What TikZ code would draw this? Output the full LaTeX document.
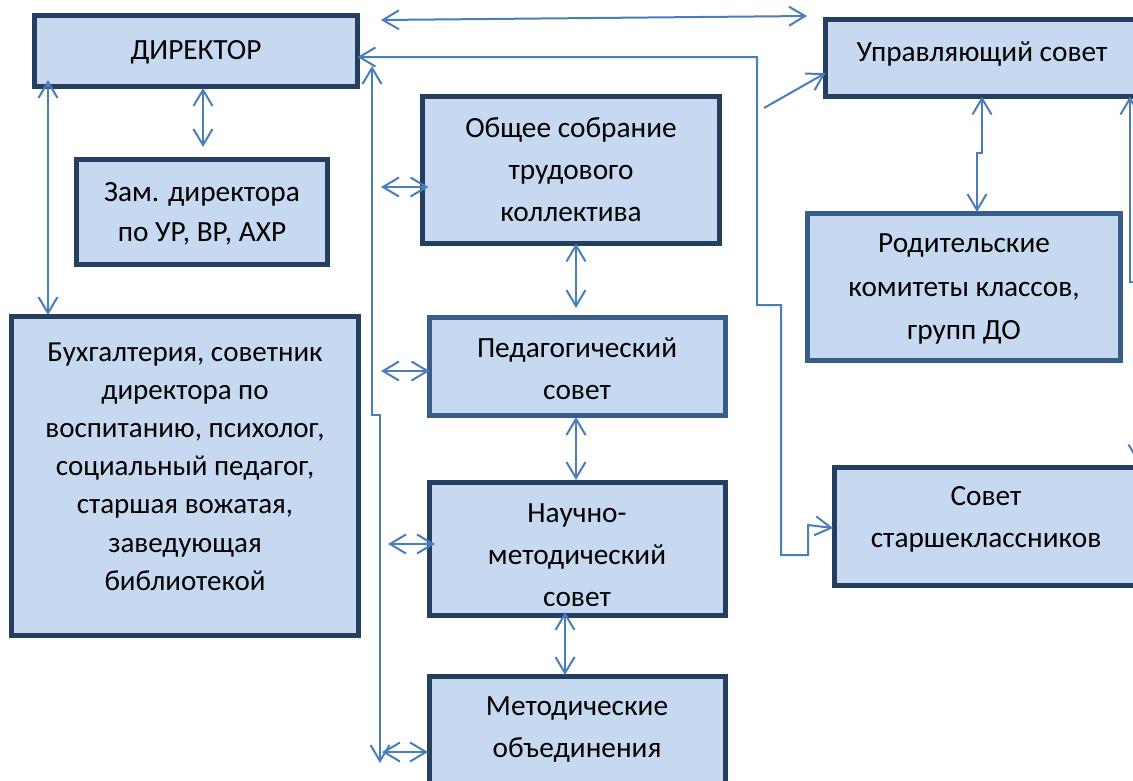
\documentclass[tikz,border=0pt]{standalone}
\usepackage{fontspec}
\setmainfont{Carlito}
\usetikzlibrary{arrows.meta}
\definecolor{lineblue}{HTML}{4A7EBB}
\definecolor{boxfill}{HTML}{C6D9F1}
\definecolor{darkb}{HTML}{243F60}
\definecolor{midb}{HTML}{385D8A}
\tikzset{vb/.tip={Straight Barb[length=16pt,width=19pt]}}
\begin{document}
\begin{tikzpicture}[x=1pt,y=-1pt,
 box/.style={draw=darkb, fill=boxfill, line width=5pt, inner sep=0pt, outer sep=0pt},
 midbox/.style={box, draw=midb},
 txt/.style={align=center, inner sep=0pt, font=\fontsize{29.3}{42}\selectfont},
 con/.style={draw=lineblue, line width=2pt, line join=miter},
 dbl/.style={con, vb-vb},
 sgl/.style={con, -vb},
 rsgl/.style={con, vb-}]
\useasboundingbox (0,0) rectangle (1133,780);
\begin{scope}
\clip (0,0) rectangle (1133,780);
% boxes
\node[box, minimum width=323pt, minimum height=71pt] (dir) at (196,51) {};
\node[box, minimum width=251pt, minimum height=105pt] (zam) at (202,212) {};
\node[box, minimum width=347pt, minimum height=319pt] (buh) at (185,476) {};
\node[box, minimum width=297pt, minimum height=147pt] (obs) at (571,170) {};
\node[midbox, minimum width=296pt, minimum height=98pt] (ped) at (577.5,366.5) {};
\node[box, minimum width=296pt, minimum height=133pt] (nmc) at (577.5,549) {};
\node[box, minimum width=296pt, minimum height=121pt] (mo) at (577.5,737) {};
\node[box, minimum width=322pt, minimum height=77pt] (up) at (986.5,58) {};
\node[midbox, minimum width=313pt, minimum height=147pt] (rod) at (964,287) {};
\node[box, minimum width=313pt, minimum height=118pt] (sst) at (991,526.5) {};
% texts
\node[txt] (dirT) at (196,52) {ДИРЕКТОР};
\node[txt, font=\fontsize{29.3}{40}\selectfont] (zamT) at (202,214) {Зам. директора\\по УР, ВР, АХР};
\node[txt, font=\fontsize{29}{38.2}\selectfont] (buhT) at (185,466.5) {Бухгалтерия, советник\\директора по\\воспитанию, психолог,\\социальный педагог,\\старшая вожатая,\\заведующая\\библиотекой};
\node[txt] (obsT) at (571,170) {Общее собрание\\трудового\\коллектива};
\node[txt] (pedT) at (577,369) {Педагогический\\совет};
\begin{scope}
\clip (430,483) rectangle (725,605.5);
\node[txt] (nmcT) at (577,555) {Научно-\\методический\\совет};
\end{scope}
\node[txt] (moT) at (577,729) {Методические\\объединения};
\node[txt] (upT) at (982,54) {Управляющий совет};
\node[txt, font=\fontsize{29.3}{43.5}\selectfont] (rodT) at (964,289) {Родительские\\комитеты классов,\\групп ДО};
\node[txt] (sstT) at (986,519) {Совет\\старшеклассников};
% free coordinates
\coordinate (topL) at (381,20);
\coordinate (topR) at (807,16);
\coordinate (upS) at (764,108);
\coordinate (vTop) at (372,66);
\coordinate (vBot) at (380,763);
\coordinate (aObs) at (381,187);
\coordinate (aPed) at (381,371);
\coordinate (aNmc) at (388,544);
\coordinate (aMo) at (382,752);
\coordinate (rv) at (1130,282);
\coordinate (rv2) at (1138,420);
% connectors
\draw[dbl] (topL) -- (topR);
\draw[dbl] ([yshift=-6pt]dir.east) -- (757,57) -- (757,305) -- (781,305) -- (781,555) -- (808,555) -- (808,525) -- ([shift={(-1.5pt,-1.5pt)}]sst.west);
\draw[sgl] (upS) -- ([yshift=-15pt]up.west);
\draw[dbl] (vTop) -- (372,415) -- (380,415) -- (vBot);
\draw[dbl] (aObs) -- ([shift={(6pt,-17pt)}]obs.west);
\draw[dbl] (aPed) -- ([shift={(0pt,-4.5pt)}]ped.west);
\draw[dbl] (aNmc) -- ([shift={(5.5pt,5pt)}]nmc.west);
\draw[dbl] (aMo) -- ([shift={(-1.5pt,-15pt)}]mo.west);
\draw[dbl] ([shift={(7pt,-1.5pt)}]dir.south) -- ([shift={(1pt,12.5pt)}]zam.north);
\draw[dbl] ([shift={(13.5pt,6.5pt)}]dir.south west) -- ([shift={(36.5pt,1.5pt)}]buh.north west);
\draw[dbl] ([shift={(5pt,0pt)}]obs.south) -- ([shift={(-1.5pt,9.5pt)}]ped.north);
\draw[dbl] ([shift={(-1.5pt,-1.5pt)}]ped.south) -- ([shift={(-1.5pt,2.5pt)}]nmc.north);
\draw[dbl] ([shift={(-12.5pt,3.5pt)}]nmc.south) -- ([shift={(-12.5pt,1.5pt)}]mo.north);
\draw[dbl] ([shift={(-4.5pt,0pt)}]up.south) -- (982,153) -- (977,153) -- ([shift={(13pt,1.5pt)}]rod.north);
\draw[sgl] (1142,282) -- (rv) -- (rv |- up.south);
\draw[sgl] (rv2) -- ([yshift=5pt]rv2 |- sst.north);
\end{scope}
\end{tikzpicture}
\end{document}
